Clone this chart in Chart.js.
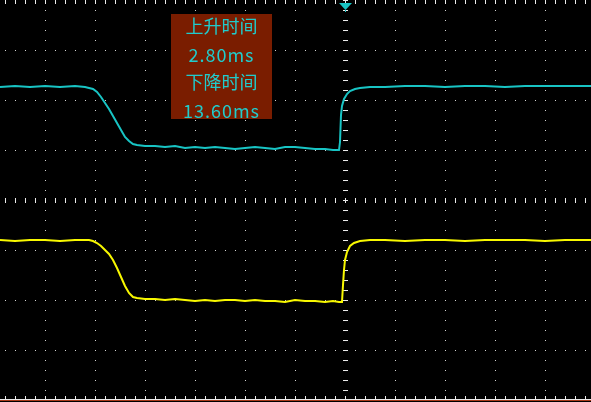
<!DOCTYPE html>
<html>
<head>
<meta charset="utf-8">
<script src="https://cdn.jsdelivr.net/npm/chart.js@4.4.1/dist/chart.umd.min.js"></script>
<style>
  body { margin: 0; background: #000; }
  #wrap { position: relative; width: 591px; height: 402px; overflow: hidden; }
  #info {
    position: absolute; left: 171px; top: 14px; width: 101px; height: 105px;
    background: #7a1d00; color: #20cccc;
    font-family: "Noto Sans CJK SC", sans-serif; font-size: 18px;
  }
  #info div { position: absolute; left: 0; width: 100%; height: 28px; line-height: 28px; text-align: center; }
  #info .num { letter-spacing: 1px; }
</style>
</head>
<body>
<div id="wrap">
  <canvas id="scope" width="591" height="402"></canvas>
  <div id="info">
    <div style="top:-3px">上升时间</div>
    <div class="num" style="top:26px">2.80ms</div>
    <div style="top:53px">下降时间</div>
    <div class="num" style="top:82px">13.60ms</div>
  </div>
</div>
<script>
// time in ms (25 ms/div, trigger at 0), level in divisions
const tCyan = [-172.5, -165, -157.5, -150, -142.5, -135, -130, -128, -126, -124, -122, -120, -118, -116,
  -114, -112, -110, -108, -106, -104, -100, -95, -90, -85, -80, -75, -70, -65, -60, -55, -50, -45, -40,
  -35, -30, -25, -20, -15, -10, -6, -3, -2.5, -2, -1.5, -0.5, 1, 2.5, 5, 7.5, 12.5, 20, 30, 40, 50, 60,
  70, 80, 90, 100, 110, 123];
const vCyan = [2.26, 2.28, 2.26, 2.28, 2.26, 2.28, 2.26, 2.24, 2.22, 2.16, 2.06, 1.94, 1.82, 1.68,
  1.54, 1.40, 1.26, 1.18, 1.12, 1.10, 1.08, 1.08, 1.06, 1.08, 1.04, 1.06, 1.04, 1.06, 1.04, 1.02, 1.04, 1.06, 1.04,
  1.02, 1.06, 1.06, 1.04, 1.02, 1.02, 1.00, 1.00, 1.16, 1.70, 1.88, 2.02, 2.12, 2.18, 2.22, 2.24, 2.26, 2.26, 2.28, 2.28, 2.26, 2.28,
  2.28, 2.26, 2.28, 2.28, 2.28, 2.28];

const tYellow = [-172.5, -165, -157.5, -150, -142.5, -135, -130, -128, -126, -124, -122, -120, -118, -116,
  -114, -112, -110, -108, -106, -104, -100, -95, -90, -85, -80, -75, -70, -65, -60, -55, -50, -45, -40,
  -35, -30, -25, -20, -15, -10, -6, -3, -1.5, -1, -0.5, 0, 1, 2.5, 4.5, 7.5, 12.5, 20, 30, 40, 50, 60,
  70, 80, 90, 100, 110, 123];
const vYellow = [-0.80, -0.82, -0.80, -0.80, -0.82, -0.80, -0.80, -0.80, -0.82, -0.86, -0.92, -1.00, -1.08, -1.20,
  -1.36, -1.54, -1.72, -1.86, -1.94, -1.96, -1.98, -1.98, -2.00, -1.98, -2.00, -2.02, -2.00, -2.02, -2.00, -2.00, -2.02, -2.00, -2.02,
  -2.02, -2.04, -2.00, -2.02, -2.02, -2.04, -2.02, -2.04, -2.04, -1.70, -1.40, -1.20, -1.04, -0.92, -0.86, -0.82, -0.80, -0.80, -0.82, -0.80, -0.80, -0.82,
  -0.80, -0.80, -0.80, -0.82, -0.80, -0.80];

const xGrid = [-150, -125, -100, -75, -50, -25, 25, 50, 75, 100];
const yGrid = [-3, -2, -1, 1, 2, 3];
const xMinor = 5;    // ms between dots / ticks
const yMinor = 0.2;  // div between dots / ticks

const scopeGrid = {
  id: 'scopeGrid',
  beforeDatasetsDraw(chart) {
    const { ctx, scales: { x, y } } = chart;
    const px = v => Math.round(x.getPixelForValue(v));
    const py = v => Math.round(y.getPixelForValue(v));
    const xs = [], ys = [];
    for (let k = Math.ceil(x.min / xMinor); k * xMinor <= x.max; k++) xs.push(k * xMinor);
    for (let k = -20; k <= 20; k++) ys.push(+(k * yMinor).toFixed(2));
    ctx.save();
    ctx.fillStyle = '#d0d0d0';
    for (const g of xGrid) for (const v of ys) ctx.fillRect(px(g), py(v), 1, 1);
    for (const g of yGrid) for (const t of xs) ctx.fillRect(px(t), py(g), 1, 1);
    ctx.fillStyle = '#ececec';
    // centre axes with ticks
    for (const t of xs) ctx.fillRect(px(t), py(0) - 2, 1, 5);
    for (const v of ys) ctx.fillRect(px(0) - 2, py(v), 5, 1);
    // top and bottom edges
    for (const t of xs) {
      ctx.fillRect(px(t), py(4), 1, 4);
      ctx.fillRect(px(t), py(-4) - 4, 1, 4);
    }
    ctx.fillRect(0, py(-4) - 1, chart.width, 1);
    ctx.fillStyle = '#a83a1a';
    ctx.fillRect(0, py(-4), chart.width, 1);
    // trigger marker
    const tx = px(0);
    ctx.fillStyle = '#18c4c4';
    ctx.beginPath();
    ctx.moveTo(tx - 6, 3);
    ctx.lineTo(tx + 7, 3);
    ctx.lineTo(tx + 0.5, 10);
    ctx.closePath();
    ctx.fill();
    ctx.fillRect(tx, 10, 1, 2);
    ctx.restore();
  }
};

new Chart(document.getElementById('scope'), {
  type: 'line',
  data: {
    datasets: [
      {
        data: tCyan.map((t, i) => ({ x: t, y: vCyan[i] })),
        borderColor: '#18c4c4', borderWidth: 2, pointRadius: 0, tension: 0
      },
      {
        data: tYellow.map((t, i) => ({ x: t, y: vYellow[i] })),
        borderColor: '#f8f800', borderWidth: 2, pointRadius: 0, tension: 0
      }
    ]
  },
  options: {
    responsive: false,
    animation: false,
    devicePixelRatio: 1,
    layout: { padding: 0 },
    plugins: { legend: { display: false }, tooltip: { enabled: false } },
    scales: {
      x: { type: 'linear', min: -172.5, max: 123, display: false },
      y: { min: -4.04, max: 4, display: false }
    }
  },
  plugins: [scopeGrid]
});
</script>
</body>
</html>
